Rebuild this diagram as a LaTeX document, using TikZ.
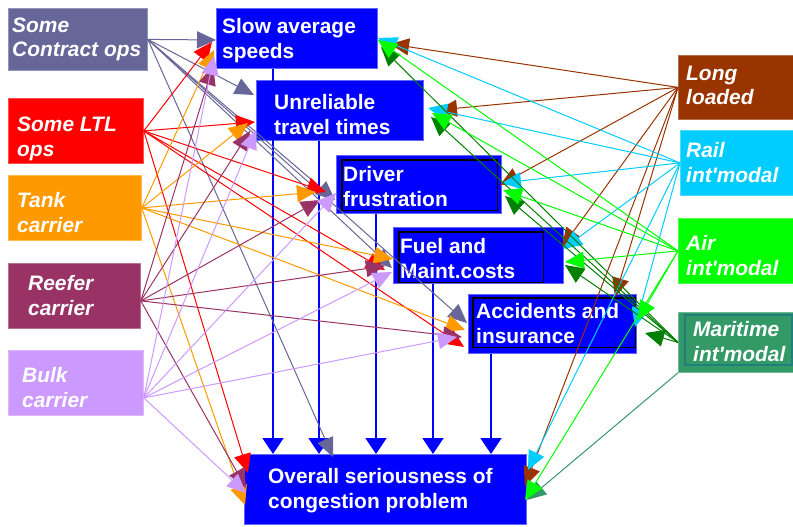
\documentclass[tikz,border=0pt]{standalone}
\usepackage{fontspec}
\setmainfont{Liberation Sans}
\usetikzlibrary{arrows.meta}
\definecolor{cContract}{HTML}{666699}
\definecolor{cLTL}{HTML}{FF0000}
\definecolor{cTank}{HTML}{FF9900}
\definecolor{cReefer}{HTML}{993366}
\definecolor{cBulk}{HTML}{CC99FF}
\definecolor{cLong}{HTML}{993300}
\definecolor{cRail}{HTML}{00CCFF}
\definecolor{cAir}{HTML}{00FF00}
\definecolor{cMar}{HTML}{339966}
\definecolor{cMarDark}{HTML}{008000}
\definecolor{cMarEdge}{HTML}{1F7F7F}
\definecolor{cBlue}{HTML}{0000FF}
\begin{document}
\begin{tikzpicture}[x=1bp,y=-1bp,
  box/.style={rectangle, anchor=north west, inner sep=0, line width=0.8bp},
  lbl/.style={text=white, font=\fontsize{21}{25}\selectfont\bfseries, align=left, inner sep=0, anchor=west},
  ilbl/.style={lbl, font=\fontsize{21}{25}\selectfont\bfseries\itshape},
  conn/.style={line width=1bp, -{Triangle[length=19bp,width=17bp]}},
  downarr/.style={line width=2bp, draw=cBlue, -{Triangle[length=16bp,width=21bp]}},
  inner/.style={draw=black, line width=1.2bp}
]
\useasboundingbox (0,0) rectangle (793,527);

% left source boxes
\node[box, fill=cContract, draw=cContract!70!white, minimum width=139bp, minimum height=62bp] (contract) at (8,8) {};
\node[box, fill=cLTL, draw=cLTL!70!white, minimum width=135bp, minimum height=65bp] (ltl) at (8,98) {};
\node[box, fill=cTank, draw=cTank!70!white, minimum width=133bp, minimum height=65bp] (tank) at (8,175) {};
\node[box, fill=cReefer, draw=cReefer!70!white, minimum width=132bp, minimum height=65bp] (reefer) at (8,263) {};
\node[box, fill=cBulk, draw=cBulk!70!white, minimum width=135bp, minimum height=65bp] (bulk) at (8,350) {};

% right source boxes
\node[box, fill=cLong, draw=cLong!70!white, minimum width=115bp, minimum height=64bp] (long) at (678,55) {};
\node[box, fill=cRail, draw=cRail!70!white, minimum width=113bp, minimum height=65bp] (rail) at (680,130) {};
\node[box, fill=cAir, draw=cAir!70!white, minimum width=115bp, minimum height=65bp] (air) at (678,218) {};
\node[box, fill=cMar, draw=cMar!70!white, minimum width=115bp, minimum height=60bp] (mar) at (678,312) {};
\draw[draw=cMarEdge, line width=1.5bp] ([shift={(7,3)}]mar.north west) rectangle ([shift={(-2,-8)}]mar.south east);

% centre boxes
\node[box, fill=cBlue, draw=cBlue!60!white, minimum width=161bp, minimum height=60bp] (slow) at (216,8) {};
\node[box, fill=cBlue, draw=cBlue!60!white, minimum width=167bp, minimum height=60bp] (unrel) at (256,80) {};
\node[box, fill=cBlue, draw=cBlue!60!white, minimum width=165bp, minimum height=58bp] (driver) at (336,155) {};
\draw[inner] ([shift={(6,5)}]driver.north west) rectangle ([shift={(-4,-3)}]driver.south east);
\node[box, fill=cBlue, draw=cBlue!60!white, minimum width=170bp, minimum height=56bp] (fuel) at (393,227) {};
\draw[inner] ([shift={(6,5)}]fuel.north west) rectangle ([shift={(-20,-1)}]fuel.south east);
\node[box, fill=cBlue, draw=cBlue!60!white, minimum width=168bp, minimum height=59bp] (accid) at (468,294) {};
\draw[inner] ([shift={(5,4)}]accid.north west) rectangle ([shift={(-1,-6)}]accid.south east);
\node[box, fill=cBlue, draw=cBlue!60!white, minimum width=282bp, minimum height=70bp] (overall) at (244,454) {};

% labels
\node[ilbl] (contract-t) at ([shift={(4,0)}]contract.west) {Some\\Contract ops};
\node[ilbl] (ltl-t) at ([shift={(9,8)}]ltl.west) {Some LTL\\ops};
\node[ilbl] (tank-t) at ([shift={(9,5)}]tank.west) {Tank\\carrier};
\node[ilbl] (reefer-t) at ([shift={(20,0)}]reefer.west) {Reefer\\carrier};
\node[ilbl] (bulk-t) at ([shift={(14,5)}]bulk.west) {Bulk\\carrier};
\node[ilbl] (long-t) at ([shift={(8,-2)}]long.west) {Long\\loaded};
\node[ilbl] (rail-t) at ([shift={(6,0)}]rail.west) {Rail\\int\textquotesingle modal};
\node[ilbl] (air-t) at ([shift={(8,5)}]air.west) {Air\\int\textquotesingle modal};
\node[ilbl] (mar-t) at ([shift={(15,-1)}]mar.west) {Maritime\\int\textquotesingle modal};
\node[lbl] (slow-t) at ([shift={(6,2)}]slow.west) {Slow average\\speeds};
\node[lbl] (unrel-t) at ([shift={(18,4)}]unrel.west) {Unreliable\\travel times};
\node[lbl] (driver-t) at ([shift={(7,2)}]driver.west) {Driver\\frustration};
\node[lbl] (fuel-t) at ([shift={(7,3)}]fuel.west) {Fuel and\\Maint.costs};
\node[lbl] (accid-t) at ([shift={(8,0)}]accid.west) {Accidents and\\insurance};
\node[lbl] (overall-t) at ([shift={(24,1)}]overall.west) {Overall seriousness of\\congestion problem};

% vertical arrows to overall
\draw[downarr] ([xshift=57bp]slow.south west) coordinate (v1) -- (v1 |- overall.north);
\draw[downarr] ([xshift=63bp]unrel.south west) coordinate (v2) -- (v2 |- overall.north);
\draw[downarr] ([xshift=40bp]driver.south west) coordinate (v3) -- (v3 |- overall.north);
\draw[downarr] ([xshift=40bp]fuel.south west) coordinate (v4) -- (v4 |- overall.north);
\draw[downarr] ([xshift=23bp]accid.south west) coordinate (v5) -- (v5 |- overall.north);

% contract ops
\draw[conn, cContract] (contract.east) -- ([shift={(0,32)}]slow.north west);
\draw[conn, cContract] (contract.east) -- ([shift={(-2,15)}]unrel.north west);
\draw[conn, cContract] (contract.east) -- ([shift={(-1,45)}]driver.north west);
\draw[conn, cContract] (contract.east) -- ([shift={(-1,41)}]fuel.north west);
\draw[conn, cContract] (contract.east) -- ([shift={(-1,29)}]accid.north west);
\draw[conn, cContract] (contract.east) -- ([shift={(89,3)}]overall.north west);

% LTL
\draw[conn, cLTL] (ltl.east) -- ([shift={(-4,34)}]slow.north west);
\draw[conn, cLTL] (ltl.east) -- ([shift={(-1,42)}]unrel.north west);
\draw[conn, cLTL] (ltl.east) -- ([shift={(-10,37)}]driver.north west);
\draw[conn, cLTL] (ltl.east) -- ([shift={(-8,43)}]fuel.north west);
\draw[conn, cLTL] (ltl.east) -- ([shift={(-4,53)}]accid.north west);
\draw[conn, cLTL] (ltl.east) -- ([shift={(4,19)}]overall.north west);

% tank
\draw[conn, cTank] (tank.east) -- ([shift={(-2,42)}]slow.north west);
\draw[conn, cTank] (tank.east) -- ([shift={(-8,43)}]unrel.north west);
\draw[conn, cTank] (tank.east) -- ([shift={(-20,37)}]driver.north west);
\draw[conn, cTank] (tank.east) -- ([shift={(0,32)}]fuel.north west);
\draw[conn, cTank] (tank.east) -- ([shift={(-3,36)}]accid.north west);
\draw[conn, cTank] (tank.east) -- ([shift={(1,51)}]overall.north west);

% reefer
\draw[conn, cReefer] ([yshift=-5bp]reefer.east) -- ([shift={(-3,58)}]slow.north west);
\draw[conn, cReefer] ([yshift=-5bp]reefer.east) -- ([shift={(-6,51)}]unrel.north west);
\draw[conn, cReefer] ([yshift=-5bp]reefer.east) -- ([shift={(-16,45)}]driver.north west);
\draw[conn, cReefer] ([yshift=-5bp]reefer.east) -- ([shift={(-8,39)}]fuel.north west);
\draw[conn, cReefer] ([yshift=-5bp]reefer.east) -- ([shift={(-6,43)}]accid.north west);
\draw[conn, cReefer] ([yshift=-5bp]reefer.east) -- ([shift={(2,34)}]overall.north west);

% bulk
\draw[conn, cBulk] ([yshift=-15bp]bulk.east) -- ([shift={(-2,48)}]slow.north west);
\draw[conn, cBulk] ([yshift=-15bp]bulk.east) -- ([shift={(0,50)}]unrel.north west);
\draw[conn, cBulk] ([yshift=-15bp]bulk.east) -- ([shift={(0,38)}]driver.north west);
\draw[conn, cBulk] ([yshift=-15bp]bulk.east) -- ([shift={(-1,45)}]fuel.north west);
\draw[conn, cBulk] ([yshift=-15bp]bulk.east) -- ([shift={(-11,43)}]accid.north west);
\draw[conn, cBulk] ([yshift=-15bp]bulk.east) -- ([shift={(2,39)}]overall.north west);

% long loaded
\draw[conn, cLong] (long.west) -- ([shift={(174,36)}]slow.north west);
\draw[conn, cLong] (long.west) -- ([shift={(182,30)}]unrel.north west);
\draw[conn, cLong] (long.west) -- ([shift={(164,30)}]driver.north west);
\draw[conn, cLong] (long.west) -- ([shift={(169,20)}]fuel.north west);
\draw[conn, cLong] (long.west) -- ([shift={(147,3)}]accid.north west);
\draw[conn, cLong] (long.west) -- ([shift={(281,32)}]overall.north west);

% rail
\draw[conn, cRail] (rail.west) -- ([shift={(162,30)}]slow.north west);
\draw[conn, cRail] (rail.west) -- ([shift={(172,28)}]unrel.north west);
\draw[conn, cRail] (rail.west) -- ([shift={(166,28)}]driver.north west);
\draw[conn, cRail] (rail.west) -- ([shift={(170,22)}]fuel.north west);
\draw[conn, cRail] (rail.west) -- ([shift={(167,33)}]accid.north west);
\draw[conn, cRail] (rail.west) -- ([shift={(284,16)}]overall.north west);

% maritime
\draw[conn, cMarDark] (mar.west) -- ([shift={(165,39)}]slow.north west);
\draw[conn, cMarDark] (mar.west) -- ([shift={(175,37)}]unrel.north west);
\draw[conn, cMarDark] (mar.west) -- ([shift={(169,41)}]driver.north west);
\draw[conn, cMarDark] (mar.west) -- ([shift={(172,38)}]fuel.north west);
\draw[conn, cMarDark] (mar.west) -- ([shift={(177,39)}]accid.north west);
\draw[conn, cMar] (mar.south west) -- ([shift={(283,46)}]overall.north west);

% air
\draw[conn, cAir] (air.west) -- ([shift={(162,32)}]slow.north west);
\draw[conn, cAir] (air.west) -- ([shift={(176,33)}]unrel.north west);
\draw[conn, cAir] (air.west) -- ([shift={(167,35)}]driver.north west);
\draw[conn, cAir] (air.west) -- ([shift={(172,35)}]fuel.north west);
\draw[conn, cAir] (air.west) -- ([shift={(170,26)}]accid.north west);
\draw[conn, cAir] (air.west) -- ([shift={(281,46)}]overall.north west);
\end{tikzpicture}
\end{document}
